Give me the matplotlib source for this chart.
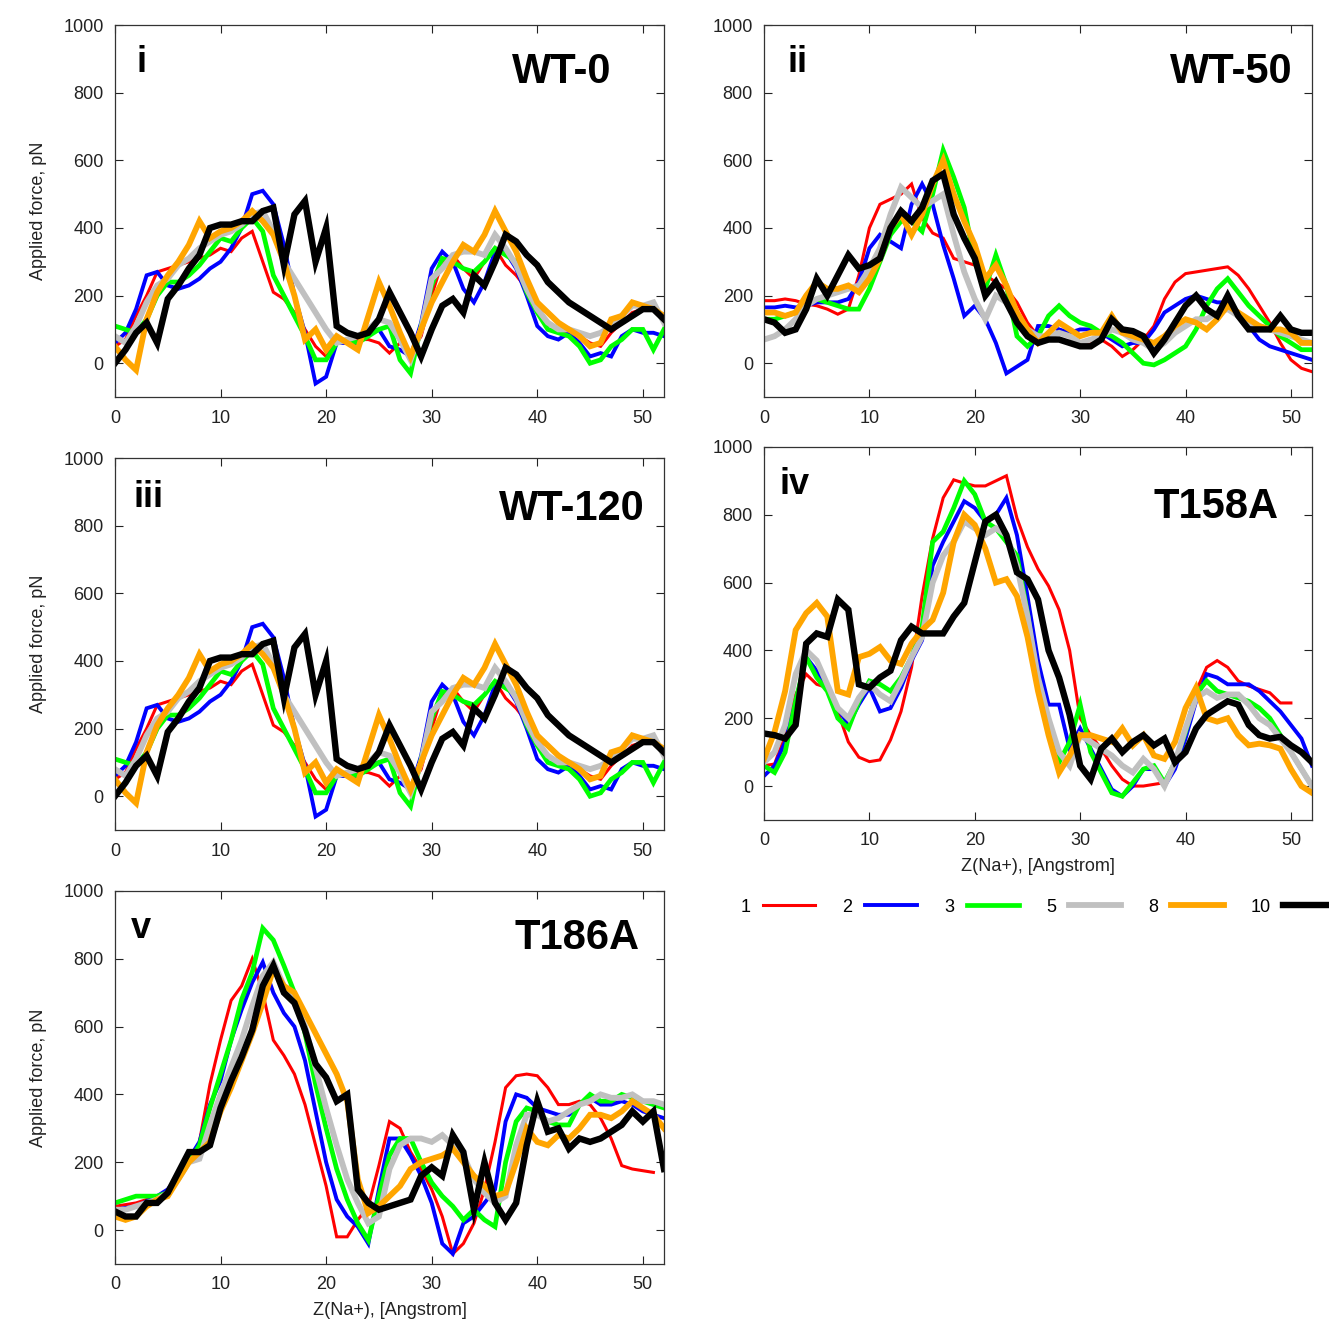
import numpy as np
import matplotlib
matplotlib.use("Agg")
import matplotlib.pyplot as plt

plt.rcParams["font.family"] = ["Liberation Sans", "DejaVu Sans"]

# pulling coordinate, 1 A steps
z_na = list(range(53))

run_labels = ["1", "2", "3", "5", "8", "10"]
run_colors = ["#ff0000", "#0000ff", "#00ff00", "#c0c0c0", "#ffa500", "#000000"]
run_widths = [2.2, 2.8, 3.4, 4.2, 4.2, 4.6]

# WT-0 (also shown as WT-120)
wt0_run1 = [50, 70, 140, 200, 270, 280, 290, 300, 310, 320, 340, 330, 370, 390, 300, 210, 190, 150, 100, 50,
            20, 60, 70, 70, 70, 60, 30, 60, 30, 80, 200, 300, 320, 280, 250, 300, 340, 290, 260, 220,
            170, 120, 100, 90, 80, 60, 50, 90, 120, 150, 160, 180, 130]
wt0_run2 = [60, 90, 160, 260, 270, 230, 220, 230, 250, 280, 300, 340, 400, 500, 510, 470, 350, 200, 90, -60,
            -40, 60, 60, 60, 90, 100, 50, 40, 20, 120, 280, 330, 300, 220, 180, 240, 330, 330, 280, 200,
            110, 80, 70, 90, 60, 20, 30, 20, 80, 100, 90, 90, 80]
wt0_run3 = [110, 100, 90, 130, 200, 240, 240, 260, 290, 330, 370, 360, 400, 430, 390, 260, 200, 140, 80, 10,
            10, 60, 70, 60, 80, 100, 110, 10, -30, 110, 230, 310, 300, 280, 270, 300, 340, 320, 300, 210,
            150, 100, 90, 80, 50, 0, 10, 50, 70, 100, 100, 40, 100]
wt0_run5 = [80, 60, 110, 180, 230, 250, 290, 310, 340, 360, 380, 390, 410, 440, 450, 390, 300, 250, 200, 150,
            100, 60, 70, 80, 100, 130, 120, 70, 10, 100, 250, 280, 320, 330, 330, 320, 380, 340, 290, 220,
            160, 120, 100, 100, 90, 80, 90, 110, 140, 170, 170, 180, 120]
wt0_run8 = [50, 10, -20, 130, 210, 260, 300, 350, 420, 370, 390, 400, 420, 450, 420, 380, 300, 200, 70, 100,
            40, 80, 60, 40, 140, 240, 170, 90, 20, 100, 180, 240, 300, 350, 330, 380, 450, 390, 330, 250,
            180, 150, 120, 100, 80, 50, 60, 130, 140, 180, 170, 160, 140]
wt0_run10 = [0, 40, 90, 120, 60, 190, 230, 280, 320, 400, 410, 410, 420, 420, 450, 460, 290, 440, 480, 300,
             400, 110, 90, 80, 90, 130, 210, 150, 90, 20, 100, 170, 190, 150, 260, 230, 300, 380, 360, 320,
             290, 240, 210, 180, 160, 140, 120, 100, 120, 140, 160, 160, 130]

# WT-50
wt50_run1 = [185, 185, 190, 185, 175, 170, 160, 145, 160, 260, 400, 470, 485, 500, 530, 430, 385, 370, 310, 300,
             290, 260, 240, 220, 180, 120, 80, 80, 70, 60, 50, 60, 70, 50, 20, 40, 70, 110, 190, 240,
             265, 270, 275, 280, 285, 260, 220, 170, 120, 60, 10, -15, -25]
wt50_run2 = [165, 165, 170, 165, 170, 180, 180, 180, 190, 240, 340, 380, 360, 340, 470, 530, 470, 350, 250, 140,
             170, 130, 60, -30, -10, 10, 110, 110, 100, 90, 100, 100, 90, 70, 50, 60, 60, 100, 150, 170,
             190, 200, 190, 180, 180, 150, 110, 70, 50, 40, 30, 20, 10]
wt50_run3 = [130, 130, 140, 150, 170, 190, 180, 170, 160, 160, 220, 300, 380, 420, 420, 390, 500, 630, 550, 460,
             300, 220, 320, 230, 80, 50, 80, 140, 170, 140, 120, 110, 90, 80, 60, 30, 0, -5, 10, 30,
             50, 100, 170, 220, 250, 210, 170, 140, 110, 80, 60, 40, 40]
wt50_run5 = [70, 80, 100, 130, 170, 190, 200, 210, 220, 230, 280, 340, 440, 520, 490, 460, 480, 500, 380, 270,
             190, 130, 200, 180, 130, 100, 80, 80, 90, 80, 60, 70, 80, 100, 90, 70, 60, 40, 60, 90,
             110, 130, 130, 150, 160, 140, 120, 110, 100, 90, 80, 70, 60]
wt50_run8 = [150, 150, 140, 150, 200, 240, 220, 220, 230, 210, 250, 310, 400, 440, 380, 440, 530, 600, 500, 420,
             350, 250, 290, 230, 150, 100, 60, 90, 120, 100, 80, 90, 90, 140, 90, 80, 70, 60, 80, 110,
             130, 120, 100, 130, 170, 150, 130, 110, 100, 100, 90, 60, 60]
wt50_run10 = [130, 120, 90, 100, 160, 250, 200, 260, 320, 280, 290, 310, 400, 450, 420, 460, 540, 560, 440, 370,
              310, 200, 240, 180, 120, 80, 60, 70, 70, 60, 50, 50, 70, 130, 100, 95, 80, 30, 70, 120,
              170, 200, 160, 140, 200, 140, 100, 100, 100, 140, 100, 90, 90]

# T158A
t158a_run1 = [60, 65, 150, 270, 330, 300, 290, 220, 130, 85, 72, 77, 136, 220, 350, 560, 730, 850, 903, 893,
              885, 885, 900, 915, 790, 705, 640, 590, 520, 400, 200, 150, 110, 60, 20, 0, 0, 5, 10, 60,
              170, 280, 350, 370, 350, 310, 295, 285, 275, 245, 245, np.nan, np.nan]
t158a_run2 = [30, 60, 130, 250, 380, 340, 290, 230, 180, 240, 290, 220, 230, 290, 370, 430, 650, 720, 780, 840,
              820, 780, 800, 850, 740, 560, 370, 240, 240, 110, 170, 110, 50, -10, -30, 0, 50, 50, 0, 50,
              140, 250, 330, 320, 300, 300, 300, 280, 250, 220, 180, 140, 60]
t158a_run3 = [60, 40, 100, 250, 380, 320, 280, 200, 170, 250, 310, 300, 280, 320, 380, 470, 720, 750, 820, 900,
              860, 780, 760, 720, 680, 510, 300, 180, 70, 130, 240, 100, 40, -20, -30, 10, 50, 60, 10, 70,
              160, 270, 310, 280, 270, 260, 250, 230, 200, 150, 100, 50, 0]
t158a_run5 = [70, 100, 180, 330, 400, 370, 300, 230, 200, 260, 300, 270, 250, 310, 380, 440, 600, 680, 720, 780,
              760, 740, 760, 740, 650, 500, 320, 200, 100, 60, 150, 130, 110, 90, 60, 40, 80, 50, 0, 70,
              170, 260, 280, 260, 270, 270, 240, 200, 180, 140, 100, 50, 0]
t158a_run8 = [80, 160, 280, 460, 510, 540, 500, 280, 270, 380, 390, 410, 370, 360, 420, 460, 490, 570, 720, 800,
              770, 700, 600, 610, 560, 440, 280, 150, 40, 90, 150, 150, 140, 130, 170, 120, 150, 90, 80, 130,
              230, 290, 200, 190, 200, 150, 120, 125, 120, 110, 50, 0, -20]
t158a_run10 = [155, 150, 140, 180, 420, 450, 440, 550, 520, 300, 290, 320, 340, 430, 470, 450, 450, 450, 500, 540,
               660, 780, 800, 740, 630, 610, 550, 400, 320, 210, 60, 20, 110, 140, 100, 130, 150, 120, 140, 70,
               100, 170, 210, 230, 250, 240, 180, 150, 140, 145, 120, 100, 70]

# T186A
t186a_run1 = [70, 75, 80, 90, 100, 110, 150, 200, 260, 430, 560, 677, 720, 800, 700, 560, 515, 460, 370, 250,
              130, -20, -20, 30, 70, 190, 320, 300, 230, 180, 120, 40, -70, -40, 20, 120, 260, 420, 455, 460,
              455, 420, 370, 370, 380, 370, 330, 270, 190, 180, 175, 170, np.nan]
t186a_run2 = [60, 65, 70, 85, 100, 120, 160, 210, 260, 370, 440, 560, 650, 730, 790, 700, 640, 600, 500, 350,
              200, 90, 40, 10, -40, 120, 270, 270, 220, 160, 80, -40, -70, 20, 40, 80, 120, 320, 400, 390,
              360, 350, 340, 340, 370, 390, 370, 370, 380, 370, 350, 340, 330]
t186a_run3 = [80, 90, 100, 100, 100, 110, 150, 200, 250, 360, 460, 560, 680, 760, 890, 855, 780, 700, 580, 430,
              300, 180, 90, 20, -30, 100, 220, 270, 270, 200, 140, 100, 70, 30, 60, 30, 10, 200, 320, 360,
              350, 320, 310, 310, 370, 400, 380, 380, 400, 390, 380, 370, 360]
t186a_run5 = [60, 60, 70, 80, 90, 110, 150, 200, 210, 310, 400, 480, 560, 660, 750, 790, 720, 670, 600, 480,
              360, 250, 150, 80, 20, 40, 180, 250, 270, 270, 260, 280, 250, 220, 150, 110, 80, 100, 250, 340,
              340, 320, 330, 350, 370, 380, 400, 390, 390, 400, 380, 380, 370]
t186a_run8 = [40, 30, 40, 70, 90, 100, 150, 200, 230, 260, 350, 420, 500, 580, 670, 770, 720, 700, 640, 580,
              520, 460, 380, 150, 50, 70, 100, 130, 180, 200, 210, 220, 240, 200, 160, 130, 100, 110, 200, 300,
              260, 250, 280, 270, 300, 340, 340, 330, 350, 380, 360, 340, 300]
t186a_run10 = [55, 40, 40, 80, 80, 110, 170, 230, 230, 250, 360, 440, 510, 590, 720, 780, 700, 670, 590, 490,
               450, 380, 400, 120, 80, 60, 70, 80, 90, 160, 185, 160, 280, 230, 60, 200, 80, 30, 80, 250,
               380, 290, 300, 240, 270, 260, 270, 290, 310, 350, 320, 350, 180]

panels = [
    ("i", "WT-0", [wt0_run1, wt0_run2, wt0_run3, wt0_run5, wt0_run8, wt0_run10]),
    ("ii", "WT-50", [wt50_run1, wt50_run2, wt50_run3, wt50_run5, wt50_run8, wt50_run10]),
    ("iii", "WT-120", [wt0_run1, wt0_run2, wt0_run3, wt0_run5, wt0_run8, wt0_run10]),
    ("iv", "T158A", [t158a_run1, t158a_run2, t158a_run3, t158a_run5, t158a_run8, t158a_run10]),
    ("v", "T186A", [t186a_run1, t186a_run2, t186a_run3, t186a_run5, t186a_run8, t186a_run10]),
]

# axes boxes in figure fractions
boxes = [
    (0.0865, 0.7008, 0.4131, 0.2803),
    (0.5749, 0.7008, 0.4123, 0.2803),
    (0.0865, 0.3745, 0.4131, 0.2803),
    (0.5749, 0.3821, 0.4123, 0.2811),
    (0.0865, 0.0475, 0.4131, 0.2811),
]
name_pos = [(0.905, 0.875), (0.965, 0.875), (0.965, 0.862), (0.938, 0.84), (0.956, 0.874)]
roman_pos = [(0.04, 0.90), (0.042, 0.90), (0.033, 0.895), (0.029, 0.898), (0.029, 0.90)]

fig = plt.figure(figsize=(13.29, 13.27), dpi=100)

handles = []
for k, (roman, name, runs) in enumerate(panels):
    ax = fig.add_axes(boxes[k])
    for j, f in enumerate(runs):
        ln, = ax.plot(z_na, f, color=run_colors[j], lw=run_widths[j],
                      solid_joinstyle="miter")
        if k == 0:
            handles.append(ln)
    ax.set_xlim(0, 52)
    ax.set_ylim(-100, 1000)
    ax.set_xticks([0, 10, 20, 30, 40, 50])
    ax.set_yticks([0, 200, 400, 600, 800, 1000])
    ax.tick_params(direction="in", top=True, right=True, length=6, width=0.8,
                   labelsize=13, colors="#222222")
    ax.tick_params(axis="x", pad=9)
    ax.tick_params(axis="y", pad=8)
    for sp in ax.spines.values():
        sp.set_linewidth(0.9)
        sp.set_color("#333333")
    ax.text(roman_pos[k][0], roman_pos[k][1], roman, transform=ax.transAxes,
            fontsize=26, fontweight="bold", ha="left", va="center")
    ax.text(name_pos[k][0], name_pos[k][1], name, transform=ax.transAxes,
            fontsize=30, fontweight="bold", ha="right", va="center")
    if k in (0, 2, 4):
        ax.set_ylabel("Applied force, pN", fontsize=13, color="#222222", labelpad=12)
    if k in (3, 4):
        ax.set_xlabel("Z(Na+), [Angstrom]", fontsize=13, color="#222222", labelpad=6)

fig.legend(handles, run_labels, loc="center", bbox_to_anchor=(0.781, 0.3165), ncol=6,
           markerfirst=False, frameon=False, fontsize=13, handlelength=2.9,
           handletextpad=0.7, columnspacing=1.5)

fig.savefig("out.png", dpi=100)
